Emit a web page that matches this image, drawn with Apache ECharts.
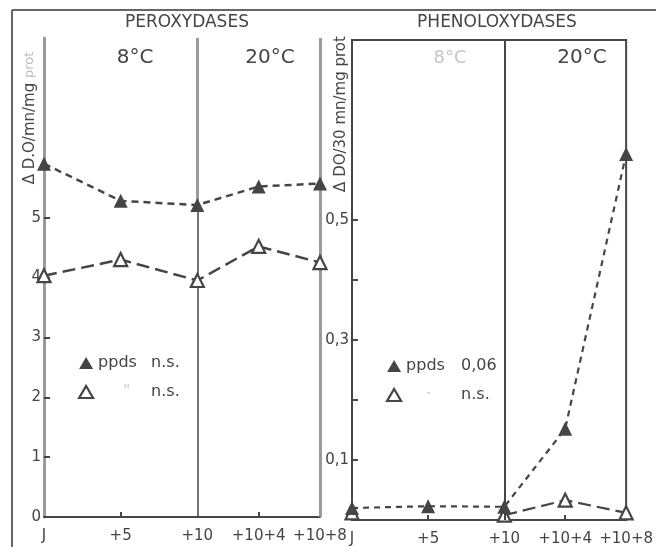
<!DOCTYPE html>
<html><head><meta charset="utf-8">
<script src="https://cdn.jsdelivr.net/npm/echarts@6/dist/echarts.min.js"></script>
<style>html,body{margin:0;padding:0;background:#fff}#c{width:656px;height:547px}</style>
</head><body><div id="c"></div>
<script>
// ---- data ----
var xDays = [0, 5, 10, 14, 18];
var xTickLabels = ['J', '+5', '+10', '+10+4', '+10+8'];
var perPpds = [5.9, 5.28, 5.21, 5.52, 5.57];      // filled triangles, peroxydases
var perOther = [4.03, 4.3, 3.95, 4.52, 4.25];     // open triangles, peroxydases
var phePpds = [0.02, 0.023, 0.022, 0.152, 0.61];  // filled triangles, phenoloxydases
var pheOther = [0.012, null, 0.008, 0.033, 0.012];// open triangles, phenoloxydases
var perYLabels = [0, 1, 2, 3, 4, 5];
var pheYLabels = [0.1, 0.3, 0.5];
var pheYTicks = [0.1, 0.2, 0.3, 0.4, 0.5];

function pairs(vals){ return xDays.map(function(d,i){ return [d, vals[i]]; }); }
var labelMap = {}; xDays.forEach(function(d,i){ labelMap[d] = xTickLabels[i]; });

var INK = '#454545', GREY = '#9a9a9a';
var FONT = 'DejaVu Sans';

function xAxis(gi){
  return {
    gridIndex: gi, type: 'value', min: 0, max: 18, interval: 1,
    axisLine: { show: true, lineStyle: { color: INK, width: 2 } },
    axisTick: { show: true, inside: true, length: 5, customValues: [5, 14, 18], lineStyle: { color: INK, width: 2 } },
    axisLabel: { customValues: xDays, formatter: function(v){ return labelMap[v] || ''; },
                 color: INK, fontSize: 15, fontFamily: FONT, margin: 12 },
    splitLine: { show: false }
  };
}

var NAMES = { l1: 'ppds n.s.', l2: '" n.s.', r1: 'ppds 0,06', r2: '· n.s.' };
var fmt = {};
fmt[NAMES.l1] = '{p|ppds}n.s.';
fmt[NAMES.l2] = '{s|}{q|"}n.s.';
fmt[NAMES.r1] = '{pr|ppds}0,06';
fmt[NAMES.r2] = '{sr|}{qr|·}n.s.';
function legendRich(){
  return { p:{width:53, fontSize:16, color:INK, fontFamily:FONT},
           s:{width:25}, q:{width:28, color:'#d0d0d0', fontSize:16, fontFamily:FONT},
           pr:{width:55, fontSize:16, color:INK, fontFamily:FONT},
           sr:{width:20}, qr:{width:35, color:'#c8c8c8', fontSize:16, fontFamily:FONT} };
}
var openStyle = { color: '#fff', borderColor: INK, borderWidth: 2.2 };
var fillStyle = { color: INK };

var option = {
  backgroundColor: '#fff',
  animation: false,
  grid: [
    { left: 44, top: 38, width: 276, height: 479, show: false },
    { left: 352, top: 40, width: 281, height: 480, show: true, borderColor: INK, borderWidth: 2, backgroundColor: 'transparent' }
  ],
  xAxis: [ xAxis(0), xAxis(1) ],
  yAxis: [
    { gridIndex: 0, type: 'value', min: 0, max: 8, interval: 1,
      axisLine: { show: true, lineStyle: { color: GREY, width: 3 } },
      axisTick: { show: true, inside: true, length: 6, customValues: [1,2,3,4,5], lineStyle: { color: INK, width: 2 } },
      axisLabel: { customValues: perYLabels, color: INK, fontSize: 15, fontFamily: FONT, margin: 3 },
      splitLine: { show: false } },
    { gridIndex: 1, type: 'value', min: 0, max: 0.8, interval: 0.1,
      axisLine: { show: true, lineStyle: { color: INK, width: 2 } },
      axisTick: { show: true, inside: true, length: 6, customValues: pheYTicks, lineStyle: { color: INK, width: 2 } },
      axisLabel: { customValues: pheYLabels, formatter: function(v){ return String(v).replace('.', ','); },
                   color: INK, fontSize: 15, fontFamily: FONT, margin: 3 },
      splitLine: { show: false } }
  ],
  legend: [
    { data: [ {name: NAMES.l1, itemStyle: fillStyle}, {name: NAMES.l2, itemStyle: openStyle} ],
      orient: 'vertical', left: 73, top: 350, itemGap: 13, itemWidth: 14, itemHeight: 12,
      icon: 'triangle', selectedMode: false,
      formatter: function(n){ return fmt[n]; },
      textStyle: { color: INK, fontSize: 16, fontFamily: FONT, rich: legendRich() } },
    { data: [ {name: NAMES.r1, itemStyle: fillStyle}, {name: NAMES.r2, itemStyle: openStyle} ],
      orient: 'vertical', left: 381, top: 353, itemGap: 13, itemWidth: 14, itemHeight: 12,
      icon: 'triangle', selectedMode: false,
      formatter: function(n){ return fmt[n]; },
      textStyle: { color: INK, fontSize: 16, fontFamily: FONT, rich: legendRich() } }
  ],
  series: [
    { name: NAMES.l1, type: 'line', xAxisIndex: 0, yAxisIndex: 0, data: pairs(perPpds),
      symbol: 'triangle', symbolSize: 14, itemStyle: fillStyle, clip: false, z: 5,
      lineStyle: { color: INK, width: 2.5, type: [7, 5] },
      markLine: { silent: true, symbol: 'none', label: { show: false },
        data: [
          [ { coord: [10, 8], lineStyle: { color: GREY, width: 3, type: 'solid' } }, { coord: [10, 5.2] } ],
          [ { coord: [10, 5.2], lineStyle: { color: INK, width: 1.5, type: 'solid' } }, { coord: [10, 0] } ],
          [ { coord: [18, 8], lineStyle: { color: GREY, width: 3, type: 'solid' } }, { coord: [18, 0] } ],
          [ { coord: [0, 8], lineStyle: { color: INK, width: 2, type: 'solid' } }, { coord: [18.1, 8] } ]
        ] } },
    { name: NAMES.l2, type: 'line', xAxisIndex: 0, yAxisIndex: 0, data: pairs(perOther),
      symbol: 'triangle', symbolSize: 13, itemStyle: openStyle, clip: false, z: 5,
      lineStyle: { color: INK, width: 2.5, type: [13, 6] } },
    { name: NAMES.r1, type: 'line', xAxisIndex: 1, yAxisIndex: 1, data: pairs(phePpds),
      symbol: 'triangle', symbolSize: 14, itemStyle: fillStyle, clip: false, z: 5,
      lineStyle: { color: INK, width: 2.2, type: [6, 5] },
      markLine: { silent: true, symbol: 'none', label: { show: false },
        data: [ [ { coord: [10, 0.8], lineStyle: { color: INK, width: 2, type: 'solid' } }, { coord: [10, 0] } ] ] } },
    { name: NAMES.r2, type: 'line', xAxisIndex: 1, yAxisIndex: 1, data: pairs(pheOther),
      symbol: 'triangle', symbolSize: 13, itemStyle: openStyle, clip: false, z: 4, connectNulls: false,
      lineStyle: { color: INK, width: 2.2, type: [13, 6] } }
  ],
  graphic: [
    { type: 'line', shape: { x1: 12, y1: 10, x2: 656, y2: 10 }, style: { stroke: '#666', lineWidth: 2 }, silent: true },
    { type: 'line', shape: { x1: 12, y1: 10, x2: 12, y2: 547 }, style: { stroke: '#666', lineWidth: 2 }, silent: true },
    { type: 'text', x: 187, y: 23, style: { text: 'PEROXYDASES', fill: INK, font: '17px "DejaVu Sans"', align: 'center', verticalAlign: 'middle' } },
    { type: 'text', x: 497, y: 23, style: { text: 'PHENOLOXYDASES', fill: INK, font: '17px "DejaVu Sans"', align: 'center', verticalAlign: 'middle' } },
    { type: 'text', x: 135, y: 58, style: { text: '8°C', fill: INK, font: '20px "DejaVu Sans"', align: 'center', verticalAlign: 'middle' } },
    { type: 'text', x: 270, y: 58, style: { text: '20°C', fill: INK, font: '20px "DejaVu Sans"', align: 'center', verticalAlign: 'middle' } },
    { type: 'text', x: 450, y: 58, style: { text: '8°C', fill: '#c4c4c4', font: '18px "DejaVu Sans"', align: 'center', verticalAlign: 'middle' } },
    { type: 'text', x: 582, y: 58, style: { text: '20°C', fill: INK, font: '20px "DejaVu Sans"', align: 'center', verticalAlign: 'middle' } },
    { type: 'text', x: 30, y: 118, rotation: Math.PI / 2,
      style: { text: 'Δ D.O/mn/mg {f|prot}', fill: INK, font: '15px "DejaVu Sans"', align: 'center', verticalAlign: 'middle',
               rich: { f: { fill: '#bbb', font: '13px "DejaVu Sans"' } } } },
    { type: 'text', x: 341, y: 114, rotation: Math.PI / 2,
      style: { text: 'Δ DO/30 mn/mg prot', fill: INK, font: '15px "DejaVu Sans"', align: 'center', verticalAlign: 'middle' } }
  ]
};
echarts.init(document.getElementById('c'), null, { renderer: 'canvas' }).setOption(option);
</script></body></html>
